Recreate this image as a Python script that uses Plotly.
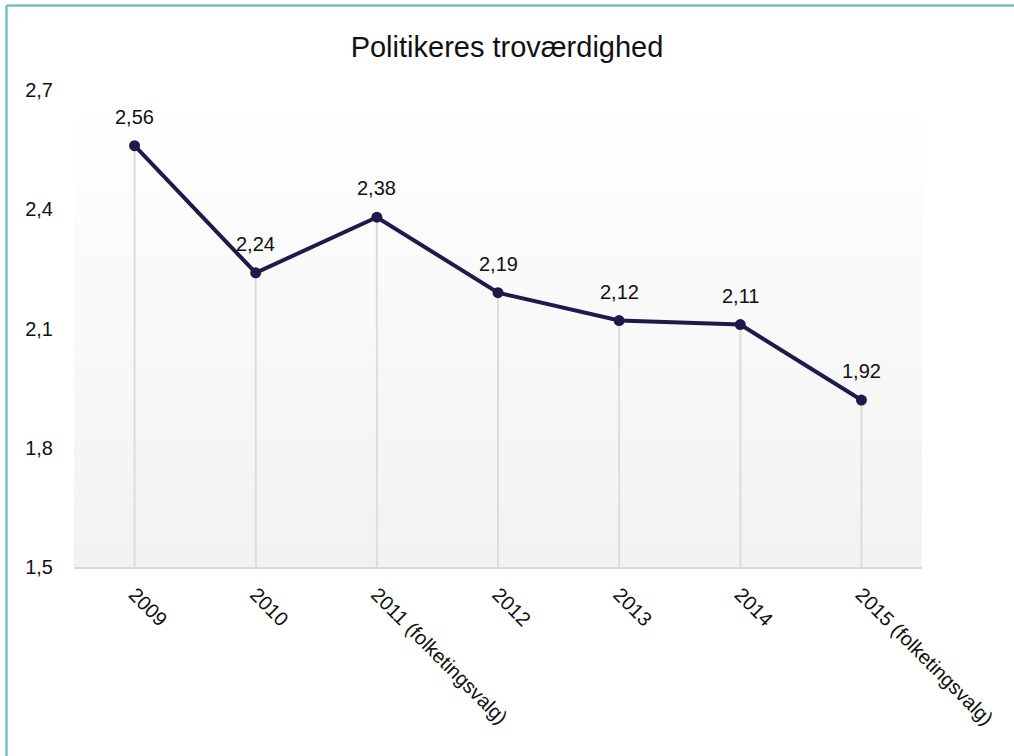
import plotly.graph_objects as go

categories = ["2009", "2010", "2011 (folketingsvalg)", "2012", "2013", "2014", "2015 (folketingsvalg)"]
values = [2.56, 2.24, 2.38, 2.19, 2.12, 2.11, 1.92]
y_ticks = [1.5, 1.8, 2.1, 2.4, 2.7]
y_min, y_max = 1.5, 2.7

line_color = "#1f1a4b"
font_family = "Liberation Sans, Arial, sans-serif"

W, H = 1014, 756
ML, MR, MT, MB = 74, 92, 90, 189
PW, PH = W - ML - MR, H - MT - MB

fig = go.Figure()

# drop lines from axis to each point
fig.add_trace(go.Scatter(
    x=categories, y=values, mode="markers",
    marker=dict(size=1, opacity=0),
    error_y=dict(type="data", symmetric=False, array=[0] * len(values),
                 arrayminus=[v - y_min for v in values],
                 color="#dcdcdc", thickness=2, width=0),
    hoverinfo="skip", showlegend=False,
))

fig.add_trace(go.Scatter(
    x=categories, y=values, mode="lines+markers",
    line=dict(color=line_color, width=4),
    marker=dict(color=line_color, size=11),
    showlegend=False,
))

for i, v in enumerate(values):
    fig.add_annotation(x=i, y=v, text=f"{v:.2f}".replace(".", ","),
                       showarrow=False, yshift=29,
                       font=dict(size=20, color="#111111", family=font_family))

# gradient plot background
n = 40
for i in range(n):
    t = i / (n - 1)
    g = round(255 - (255 - 242) * (1 - t))
    fig.add_shape(type="rect", xref="paper", yref="paper",
                  x0=0, x1=1, y0=i / n, y1=(i + 1) / n,
                  fillcolor=f"rgb({g},{g},{g})", line=dict(width=0), layer="below")

# frame (top and left edges)
top_y = 1 + (MT - 5.5) / PH
left_x = -(ML - 6.5) / PW
fig.add_shape(type="line", xref="paper", yref="paper", x0=left_x, x1=1 + MR / PW,
              y0=top_y, y1=top_y, line=dict(color="#74c0c8", width=2.5))
fig.add_shape(type="line", xref="paper", yref="paper", x0=left_x, x1=left_x,
              y0=-MB / PH, y1=top_y, line=dict(color="#74c0c8", width=2.5))

fig.update_layout(
    width=W, height=H,
    margin=dict(l=ML, r=MR, t=MT, b=MB),
    paper_bgcolor="white", plot_bgcolor="white",
    separators=", ",
    title=dict(text="Politikeres troværdighed", x=0.5, xref="container",
               y=1 - 47 / H, yanchor="middle",
               font=dict(size=29, color="#111111", family=font_family)),
    font=dict(family=font_family, size=20, color="#111111"),
    xaxis=dict(type="category", range=[-0.5, 6.5], tickangle=45,
               showgrid=False, showline=True, linecolor="#d9d9d9", linewidth=2,
               ticks="outside", ticklen=6, tickcolor="rgba(0,0,0,0)",
               tickfont=dict(size=20)),
    yaxis=dict(range=[y_min, y_max], tickvals=y_ticks,
               ticktext=[f"{t:.1f}".replace(".", ",") for t in y_ticks],
               showgrid=False, zeroline=False, showline=False,
               ticks="outside", ticklen=16, tickcolor="rgba(0,0,0,0)",
               tickfont=dict(size=20)),
)

fig.write_html("out.html", config={"displayModeBar": False},
               post_script="document.body.style.margin='0';")
